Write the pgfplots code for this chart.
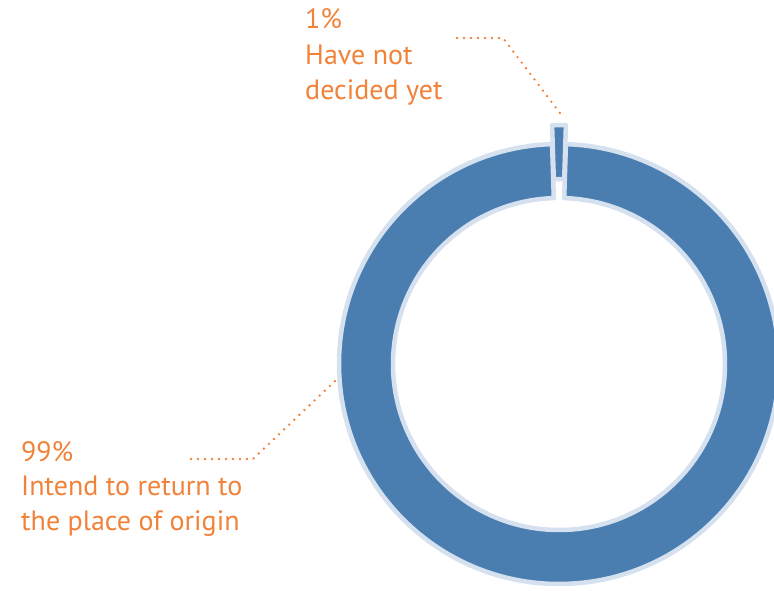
\documentclass[border=0pt]{standalone}
\usepackage{pgfplots}
\pgfplotsset{compat=1.18}
\usepackage{pgfplotstable}
\usepackage{fontspec}
\setmainfont{PT Sans}
\definecolor{sliceblue}{RGB}{74,126,176}
\definecolor{edgeblue}{RGB}{214,225,240}
\definecolor{labelorange}{RGB}{240,130,58}
\pgfplotstableread{
label value
undecided 1
return 99
}\sharetable
\begin{document}
\begin{tikzpicture}
\pgfplotstablegetelem{0}{value}\of\sharetable
\pgfmathsetmacro{\vA}{\pgfplotsretval}
\pgfplotstablegetelem{1}{value}\of\sharetable
\pgfmathsetmacro{\vB}{\pgfplotsretval}
% centre and radii (px = pt)
\pgfmathsetmacro{\cx}{559}
\pgfmathsetmacro{\cy}{226}
\pgfmathsetmacro{\Ro}{220}
\pgfmathsetmacro{\Ri}{166}
\pgfmathsetmacro{\ex}{19}
% slice angles
\pgfmathsetmacro{\aA}{90-1.8*\vA}
\pgfmathsetmacro{\aB}{90+1.8*\vA}
\pgfmathsetmacro{\aC}{\aB+3.6*\vB}
% big slice points
\pgfmathsetmacro{\xoB}{\cx+\Ro*cos(\aB)}
\pgfmathsetmacro{\yoB}{\cy+\Ro*sin(\aB)}
\pgfmathsetmacro{\xiC}{\cx+\Ri*cos(\aC)}
\pgfmathsetmacro{\yiC}{\cy+\Ri*sin(\aC)}
% small slice points (exploded upward)
\pgfmathsetmacro{\xoA}{\cx+\Ro*cos(\aA)}
\pgfmathsetmacro{\yoA}{\cy+\ex+\Ro*sin(\aA)}
\pgfmathsetmacro{\xiBB}{\cx+\Ri*cos(\aB)}
\pgfmathsetmacro{\yiBB}{\cy+\ex+\Ri*sin(\aB)}
\begin{axis}[name=ax, x=1pt, y=1pt, xmin=0, xmax=774, ymin=0, ymax=590,
  hide axis, scale only axis, clip=true, ticks=none]
\coordinate (bl) at (axis cs:0,0);
\coordinate (tr) at (axis cs:774,590);
% 99% slice
\draw[edgeblue, line width=4.5pt, line join=round, fill=sliceblue]
  (axis cs:\xoB,\yoB) arc[start angle=\aB, end angle=\aC, radius=\Ro pt]
  -- (axis cs:\xiC,\yiC) arc[start angle=\aC, end angle=\aB, radius=\Ri pt] -- cycle;
% 1% slice
\draw[edgeblue, line width=4.5pt, line join=round, fill=sliceblue]
  (axis cs:\xoA,\yoA) arc[start angle=\aA, end angle=\aB, radius=\Ro pt]
  -- (axis cs:\xiBB,\yiBB) arc[start angle=\aB, end angle=\aA, radius=\Ri pt] -- cycle;
% leader lines
\draw[labelorange, line width=2.6pt, line cap=round, dash pattern=on 0pt off 7pt]
  (axis cs:457,552) -- (axis cs:503,552) -- (axis cs:563,473);
\draw[labelorange, line width=2.6pt, line cap=round, dash pattern=on 0pt off 7pt]
  (axis cs:191,131) -- (axis cs:253,131) -- (axis cs:335,209);
% labels
\begin{scope}[every node/.style={anchor=base west, inner sep=0pt, text=labelorange, font=\fontsize{28}{32}\selectfont}]
\node at (axis cs:305,561) {1\%};
\node at (axis cs:305,525) {Have not};
\node at (axis cs:305,490) {decided yet};
\node at (axis cs:21,129) {99\%};
\node at (axis cs:21,95) {Intend to return to};
\node at (axis cs:21,60) {the place of origin};
\end{scope}
\end{axis}
\pgfresetboundingbox
\useasboundingbox (bl) rectangle (tr);
\end{tikzpicture}
\end{document}
